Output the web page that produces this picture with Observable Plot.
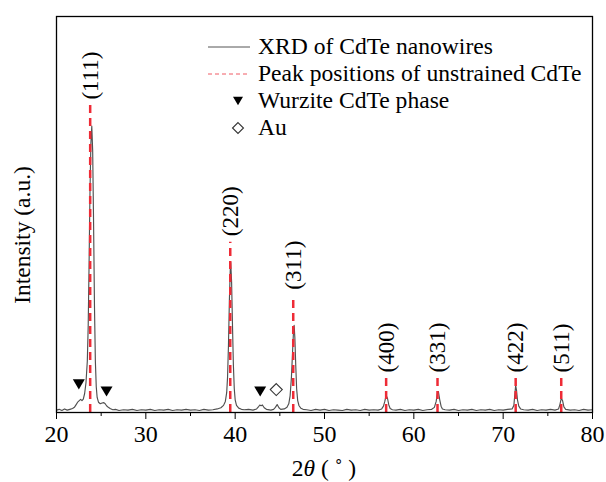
<!DOCTYPE html>
<html><head><meta charset="utf-8">
<script src="https://cdn.jsdelivr.net/npm/d3@7"></script>
<script src="https://cdn.jsdelivr.net/npm/@observablehq/plot@0.6"></script>
<style>body{margin:0;background:#fff} #chart{width:606px;height:482px}</style>
</head><body><div id="chart"></div>
<script>
// XRD curve: [2θ (deg), intensity (a.u., 0–100 frame scale)]
const xrdCurve = [
[20.0,0.6],[20.3,0.8],[20.6,0.5],[20.9,0.9],[21.2,0.6],[21.5,0.8],[21.8,1.0],[22.0,1.3],[22.2,2.0],[22.4,2.7],
[22.55,3.0],[22.7,3.3],[22.85,3.0],[23.0,3.4],[23.15,4.8],[23.3,7.5],[23.45,13],[23.55,22],[23.65,38],[23.75,56],
[23.85,68],[23.95,72.3],[24.05,66],[24.15,48],[24.25,27],[24.35,13],[24.45,6.5],[24.55,3.8],[24.7,2.6],[24.9,2.2],
[25.1,2.4],[25.3,2.5],[25.45,2.2],[25.6,1.7],[25.8,1.3],[26.0,1.0],[26.3,0.7],[26.6,0.8],[27.0,0.5],[27.5,0.7],
[28.0,0.6],[28.5,0.8],[29.0,0.5],[29.5,0.7],[30.0,0.6],[30.5,0.8],[31.0,0.5],[31.5,0.7],[32.0,0.6],[32.5,0.8],
[33.0,0.5],[33.5,0.7],[34.0,0.6],[34.5,0.8],[35.0,0.6],[35.5,0.7],[36.0,0.5],[36.5,0.8],[37.0,0.6],[37.5,0.7],
[38.0,0.9],[38.4,1.2],[38.7,1.8],[38.9,2.8],[39.05,5],[39.15,9],[39.25,17],[39.35,28],[39.45,36],[39.5,37.9],
[39.6,33],[39.7,22],[39.8,12],[39.9,6],[40.0,3.2],[40.15,1.8],[40.4,1.1],[40.7,0.8],[41.0,0.7],[41.5,0.8],
[42.0,0.6],[42.4,0.9],[42.6,1.4],[42.75,1.9],[42.9,1.7],[43.05,1.9],[43.25,1.2],[43.5,0.8],[44.0,0.6],[44.3,0.8],
[44.5,1.3],[44.7,2.0],[44.9,1.2],[45.1,0.8],[45.5,0.9],[45.8,1.3],[46.0,2.2],[46.15,4.2],[46.3,9],[46.42,15],
[46.52,20],[46.6,22],[46.68,19],[46.78,12],[46.88,6],[47.0,3],[47.15,1.7],[47.35,1.1],[47.6,0.8],[48.0,0.7],
[48.5,0.5],[49.0,0.8],[49.5,0.6],[50.0,0.8],[50.5,0.5],[51.0,0.7],[51.5,0.6],[52.0,0.5],[52.5,0.8],[53.0,0.6],
[53.5,0.7],[54.0,0.5],[54.5,0.8],[55.0,0.6],[55.5,0.7],[56.0,0.6],[56.4,0.9],[56.6,1.6],[56.75,2.8],[56.9,4.3],
[57.05,3.6],[57.2,1.9],[57.35,1.0],[57.6,0.7],[58.0,0.6],[58.5,0.8],[59.0,0.5],[59.5,0.7],[60.0,0.6],[60.5,0.8],
[61.0,0.5],[61.5,0.7],[62.0,0.8],[62.3,1.3],[62.5,2.8],[62.65,5.0],[62.75,5.3],[62.9,3.2],[63.05,1.6],[63.2,0.9],
[63.5,0.7],[64.0,0.6],[64.5,0.8],[65.0,0.5],[65.5,0.7],[66.0,0.6],[66.5,0.8],[67.0,0.5],[67.5,0.7],[68.0,0.6],
[68.5,0.8],[69.0,0.5],[69.5,0.7],[70.0,0.6],[70.5,0.8],[71.0,0.9],[71.2,1.8],[71.3,4.5],[71.4,6.8],[71.5,5.5],
[71.6,3.2],[71.75,1.6],[71.95,0.9],[72.3,0.7],[72.8,0.6],[73.3,0.8],[73.8,0.5],[74.3,0.7],[74.8,0.6],[75.3,0.8],
[75.8,0.6],[76.2,0.9],[76.35,2.0],[76.5,3.6],[76.65,3.0],[76.8,1.4],[77.0,0.8],[77.5,0.6],[78.0,0.7],[78.5,0.5],
[79.0,0.8],[79.5,0.6],[80.0,0.7]
];
const peakLabels = ["(111)","(220)","(311)","(400)","(331)","(422)","(511)"];
const peakPositions = [23.77, 39.45, 46.5, 56.9, 62.65, 71.4, 76.5];
const peakLineTops = [77.5, 43, 29.5, 8.6, 8.6, 8.6, 8.6];
const wurtziteX = [22.5, 25.6, 42.8];
const wurtziteY = [7.1, 5.3, 5.3];
const auX = [44.6];
const auY = [5.8];
const xTicks = [20, 30, 40, 50, 60, 70, 80];
const xMinorTicks = [25, 35, 45, 55, 65, 75];
const legendLabels = ["XRD of CdTe nanowires", "Peak positions of unstrained CdTe", "Wurzite CdTe phase", "Au"];
const yLabel = "Intensity (a.u.)";

const serif = "'Liberation Serif','Times New Roman',serif";
const curve = xrdCurve.map(([t, v]) => ({t, v}));
const peaks = peakLabels.map((label, i) => ({label, pos: peakPositions[i], top: peakLineTops[i]}));
const wurtzite = wurtziteX.map((x, i) => ({x, y: wurtziteY[i]}));
const au = auX.map((x, i) => ({x, y: auY[i]}));

const triangleDown = {draw(ctx, size) {
  const s = Math.sqrt(size / Math.PI);
  ctx.moveTo(-s, -s * 0.85); ctx.lineTo(s, -s * 0.85); ctx.lineTo(0, s * 0.85); ctx.closePath();
}};
const diamond = {draw(ctx, size) {
  const s = Math.sqrt(size / Math.PI);
  ctx.moveTo(0, -s); ctx.lineTo(s, 0); ctx.lineTo(0, s); ctx.lineTo(-s, 0); ctx.closePath();
}};

const hasAxisMarks = typeof Plot.axisX === "function";
const axisMarks = hasAxisMarks ? [
  Plot.axisX(xTicks, {tickSize: 7, tickPadding: 5, fontSize: 24, label: null, stroke: "black", fill: "black"}),
  Plot.axisX(xMinorTicks, {tickSize: 4, tickFormat: () => "", label: null, stroke: "black"})
] : [];

const plot = Plot.plot({
  width: 606, height: 482,
  marginLeft: 56, marginRight: 14, marginTop: 16, marginBottom: 70,
  style: {fontFamily: serif, fontSize: "22px", background: "white", color: "black"},
  x: {domain: [20, 80], ticks: xTicks, tickSize: 7, label: null},
  y: {domain: [0, 100], axis: null},
  marks: [
    ...axisMarks,
    Plot.line(curve, {x: "t", y: "v", stroke: "#505050", strokeWidth: 1.15}),
    Plot.ruleX(peaks, {x: "pos", y1: 0, y2: "top", stroke: "#ee2b36", strokeWidth: 2.5, strokeDasharray: "8,5"}),
    Plot.text(peaks, {x: "pos", y: "top", text: "label", rotate: -90, textAnchor: "start", dy: -6, fontSize: 23, fill: "black"}),
    Plot.dot(wurtzite, {x: "x", y: "y", symbol: triangleDown, r: 6, fill: "black", stroke: "none"}),
    Plot.dot(au, {x: "x", y: "y", symbol: diamond, r: 6, fill: "none", stroke: "#333", strokeWidth: 1.1}),
    Plot.frame({stroke: "black", strokeWidth: 1.3})
  ]
});

const svg = d3.select(plot);
// legend
const lg = svg.append("g").attr("font-family", serif).attr("font-size", 23.6).attr("fill", "black").attr("text-anchor", "start");
const rowY = [47, 74, 101, 128];
lg.append("line").attr("x1", 208).attr("x2", 250).attr("y1", rowY[0]).attr("y2", rowY[0]).attr("stroke", "#555").attr("stroke-width", 1);
lg.append("line").attr("x1", 208).attr("x2", 250).attr("y1", rowY[1]).attr("y2", rowY[1]).attr("stroke", "#f05a64").attr("stroke-width", 1).attr("stroke-dasharray", "4,3");
lg.append("path").attr("d", d3.symbol(triangleDown, 25 * Math.PI)()).attr("transform", `translate(238,${rowY[2]})`).attr("fill", "black");
lg.append("path").attr("d", d3.symbol(diamond, 30 * Math.PI)()).attr("transform", `translate(238,${rowY[3]})`).attr("fill", "none").attr("stroke", "#333").attr("stroke-width", 1.1);
legendLabels.forEach((t, i) => {
  lg.append("text").attr("x", 258).attr("y", rowY[i] + 7).attr("text-anchor", "start").text(t);
});
// y axis title
svg.append("text").attr("transform", "translate(22,235) rotate(-90)").attr("text-anchor", "middle")
  .attr("dy", "0.35em").attr("font-size", 23.5).attr("fill", "black").text(yLabel);
// x axis title
const xt = svg.append("text").attr("x", 324).attr("y", 476).attr("text-anchor", "middle")
  .attr("font-size", 23.5).attr("fill", "black");
xt.append("tspan").text("2");
xt.append("tspan").attr("font-style", "italic").text("θ");
xt.append("tspan").text(" ( ˚ )");
// ensure serif everywhere (including tick labels)
svg.selectAll("text").attr("font-family", serif);

document.getElementById("chart").appendChild(plot);
</script>
</body></html>
